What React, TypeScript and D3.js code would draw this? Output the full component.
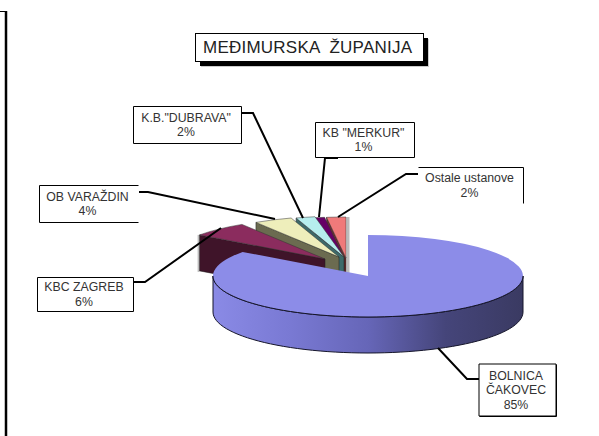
import React from 'react';
import * as d3 from 'd3';

const width = 599;
const height = 436;

const titleText = 'MEĐIMURSKA  ŽUPANIJA';
const categories = ['BOLNICA ČAKOVEC', 'KBC ZAGREB', 'OB VARAŽDIN', 'K.B."DUBRAVA"', 'KB "MERKUR"', 'Ostale ustanove'];
const values = [85, 6, 4, 2, 1, 2];
const topColors = ['#8c8ce8', '#8b2c5e', '#eeeebb', '#b6eeee', '#660066', '#f07a7a'];
const wallColors = ['#50507f', '#3f1429', '#6b6b50', '#3d6a6a', '#2e002e', '#6b3030'];

// how far each slice is pulled out of the pie
const explodeX = [0, -43, -29, -24, -24, -22];
const explodeY = [0, -17, -19, -19, -18, -18];

const cx = 368;
const cy = 276;
const rx = 155;
const ry = 41;
const depth = 36;

// callouts, lines go from the box to the slice
const callouts = [
  { lines: ['BOLNICA', 'ČAKOVEC', '85%'], x: 479, y: 364, w: 77, h: 52, sides: 'trbl', leader: [[479, 379], [467, 379], [438, 348]] },
  { lines: ['KBC ZAGREB', '6%'], x: 37.5, y: 277.5, w: 96, h: 34, sides: 'trbl', leader: [[134, 282], [145, 282], [221, 228]] },
  { lines: ['OB VARAŽDIN', '4%'], x: 39.5, y: 185.5, w: 99, h: 37, sides: 'tbl', leader: [[139, 192], [148, 192], [275, 219]] },
  { lines: ['K.B."DUBRAVA"', '2%'], x: 133.5, y: 106.5, w: 108, h: 37, sides: 'trbl', leader: [[241, 113], [253, 113], [303, 218]] },
  { lines: ['KB "MERKUR"', '1%'], x: 315.5, y: 122.5, w: 99, h: 35, sides: 'trbl', leader: [[338, 158], [325, 158], [319, 217]] },
  { lines: ['Ostale ustanove', '2%'], x: 418.5, y: 167.5, w: 105, h: 36, sides: 'tr', leader: [[418, 174], [406, 174], [338, 217]] },
];

const pie = d3.pie<number>().sort(null).startAngle(0).endAngle(2 * Math.PI);
const slices = pie(values);
const arc = d3.arc<d3.PieArcDatum<number>>().innerRadius(0).outerRadius(rx);
const line = d3.line();

const pt = (a: number, ox = 0, oy = 0): [number, number] => [
  cx + ox + rx * Math.sin(a),
  cy + oy - ry * Math.cos(a),
];

// front wall of the big slice
const frontAngles = d3.range(Math.PI / 2, (3 * Math.PI) / 2 + 0.001, Math.PI / 60);
const frontTop = frontAngles.map(a => pt(a));
const frontBottom = frontAngles.map(a => pt(a, 0, depth));
const frontPath = line([...frontTop, ...[...frontBottom].reverse()]) + 'Z';

const sideColor = d3.scaleLinear<string>()
  .domain([0, 0.45, 0.75, 1])
  .range(['#8a8ae6', '#6c6cc4', '#45457a', '#3a3a62']);

const Callout = ({ c }: { c: (typeof callouts)[number] }) => {
  const { x, y, w, h, sides } = c;
  const r = x + w;
  const b = y + h;
  const n = c.lines.length;
  const step = 14.5;
  const startY = y + h / 2 - ((n - 1) * step) / 2 + 4;
  return (
    <g>
      <rect x={x} y={y} width={w} height={h} fill="#fff" />
      {sides.includes('t') && <line x1={x} y1={y} x2={r} y2={y} stroke="#000" />}
      {sides.includes('r') && <line x1={r} y1={y} x2={r} y2={b} stroke="#000" />}
      {sides.includes('b') && <line x1={x} y1={b} x2={r} y2={b} stroke="#000" />}
      {sides.includes('l') && <line x1={x} y1={y} x2={x} y2={b} stroke="#000" />}
      {c.lines.map((t, i) => (
        <text key={t} x={x + w / 2 - 1.5} y={startY + i * step} textAnchor="middle" fontSize={12.3} fill="#333">
          {t}
        </text>
      ))}
    </g>
  );
};

export default function App() {
  const exploded = slices.slice(1).reverse();
  return (
    <svg
      width={width}
      height={height}
      style={{ position: 'fixed', left: 0, top: 0, background: '#fff', fontFamily: '"Liberation Sans", Arial, sans-serif' }}
    >
      <defs>
        <linearGradient id="side" gradientUnits="userSpaceOnUse" x1={cx - rx} x2={cx + rx} y1={0} y2={0}>
          {d3.range(0, 1.01, 0.25).map(o => (
            <stop key={o} offset={o} stopColor={sideColor(o)} />
          ))}
        </linearGradient>
      </defs>

      {/* page frame */}
      <path d="M0,11.5H6" fill="none" stroke="#000" strokeWidth={1} />
      <line x1={6} y1={11} x2={6} y2={height} stroke="#000" strokeWidth={2.5} />

      {/* title */}
      <rect x={201} y={39} width={228} height={28} fill="#ccc" />
      <rect x={200} y={38} width={228} height={28} fill="#000" />
      <rect x={195.5} y={33.5} width={228} height={28} fill="#fff" stroke="#000" />
      <text x={203} y={52.5} fontSize={17} fill="#222" style={{ whiteSpace: 'pre' }} textLength={209}>
        {titleText}
      </text>

      {/* exploded slices, back to front */}
      {exploded.map((s, j) => {
        const i = s.index;
        const ox = explodeX[i];
        const oy = explodeY[i];
        const [sx, sy] = pt(s.startAngle, ox, oy);
        const ax = cx + ox;
        const ay = cy + oy;
        const wall = line([[ax, ay], [sx, sy], [sx, sy + depth], [ax, ay + depth]]) + 'Z';
        const [ex, ey] = pt(s.endAngle, ox, oy);
        return (
          <g key={categories[i]}>
            {j === 0 && <line x1={ex + 2} y1={ey} x2={ex + 2} y2={ay + depth} stroke="#bbb" strokeWidth={3} />}
            {j === exploded.length - 1 && <line x1={sx - 1} y1={sy} x2={sx - 1} y2={sy + depth + 1} stroke="#bbb" strokeWidth={2} />}
            <path d={wall} fill={wallColors[i]} stroke="#1c1c1c" strokeWidth={0.5} />
            <path
              d={arc(s) || ''}
              transform={`translate(${ax},${ay}) scale(1,${ry / rx})`}
              fill={topColors[i]}
              stroke="#333"
              strokeWidth={0.5}
              vectorEffect="non-scaling-stroke"
            />
          </g>
        );
      })}

      {/* big slice */}
      <path d={frontPath} fill="url(#side)" stroke="#15152a" strokeWidth={1} />
      <path
        d={arc(slices[0]) || ''}
        transform={`translate(${cx},${cy}) scale(1,${ry / rx})`}
        fill={topColors[0]}
      />
      <path d={line(frontTop) || ''} fill="none" stroke="#15152a" strokeWidth={1} />

      {/* leaders */}
      {callouts.map(c => (
        <path
          key={c.lines[0]}
          d={line(c.leader as [number, number][]) || ''}
          fill="none"
          stroke="#000"
          strokeWidth={2}
        />
      ))}
      {callouts.map(c => (
        <Callout key={c.lines[0]} c={c} />
      ))}
      <path d="M479.5,416.5H556.5V364.5" fill="none" stroke="#000" strokeWidth={1} />
    </svg>
  );
}
